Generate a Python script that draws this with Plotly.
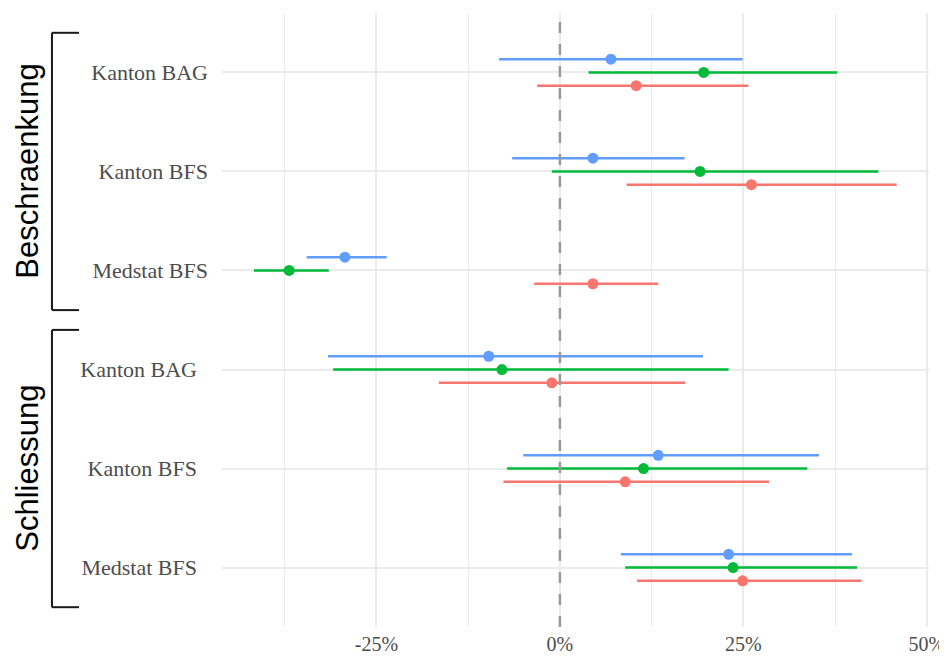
import plotly.graph_objects as go

# ---------------- data ----------------
groups = ["Beschraenkung", "Schliessung"]
categories = ["Kanton BAG", "Kanton BFS", "Medstat BFS"]

series_names = ["Serie 1", "Serie 2", "Serie 3"]
series_colors = ["#F8766D", "#00BA38", "#619CFF"]

# values in percent, order: Beschraenkung (BAG, BFS, Medstat), Schliessung (BAG, BFS, Medstat)
est_1 = [10.4, 26.1, 4.5, -1.1, 8.9, 24.9]
low_1 = [-3.1, 9.1, -3.5, -16.5, -7.7, 10.5]
high_1 = [25.7, 45.9, 13.4, 17.1, 28.5, 41.1]

est_2 = [19.6, 19.1, -36.9, -7.9, 11.4, 23.6]
low_2 = [3.9, -1.1, -41.7, -30.9, -7.2, 8.9]
high_2 = [37.8, 43.4, -31.5, 23.0, 33.7, 40.5]

est_3 = [6.95, 4.5, -29.3, -9.7, 13.4, 23.0]
low_3 = [-8.3, -6.5, -34.5, -31.6, -5.0, 8.3]
high_3 = [24.9, 17.0, -23.6, 19.5, 35.3, 39.8]

x_tickvals = [-25, 0, 25, 50]
x_ticktext = ["-25%", "0%", "25%", "50%"]

# ---------------- figure ----------------
estimates = [est_1, est_2, est_3]
lows = [low_1, low_2, low_3]
highs = [high_1, high_2, high_3]

n_cat = len(categories)
positions = list(range(1, len(groups) * n_cat + 1))
dodge = [0.134, 0.0, -0.134]

fig = go.Figure()
for s in range(3):
    ys = [p + dodge[s] for p in positions]
    est = estimates[s]
    fig.add_trace(go.Scatter(
        x=est, y=ys, mode="markers", name=series_names[s],
        marker=dict(color=series_colors[s], size=11, line=dict(width=0)),
        error_x=dict(type="data", symmetric=False,
                     array=[h - e for h, e in zip(highs[s], est)],
                     arrayminus=[e - l for e, l in zip(est, lows[s])],
                     color=series_colors[s], thickness=2.5, width=0),
        showlegend=False,
    ))

ticktext_y = []
for gi, g in enumerate(groups):
    for c in categories:
        ticktext_y.append(c + "\u00a0\u00a0" * gi)

label_font = dict(family="Liberation Serif", size=22, color="#4d4d4d")
xlabel_font = dict(family="Liberation Serif", size=20, color="#4d4d4d")
grid_col = "#ebebeb"

# the page body adds an 8px offset; the figure is sized to fit the window
fig.update_layout(
    width=939, height=649,
    margin=dict(l=214, r=18, t=5, b=30),
    paper_bgcolor="white", plot_bgcolor="white",
    xaxis=dict(
        range=[-46.05, 50.3], tickvals=x_tickvals, ticktext=x_ticktext,
        showgrid=True, gridcolor=grid_col, gridwidth=2, zeroline=False,
        showline=False, ticks="", tickfont=xlabel_font, ticklabelstandoff=3,
        minor=dict(dtick=12.5, tick0=0, showgrid=True, gridcolor=grid_col, gridwidth=1),
        automargin=False,
    ),
    yaxis=dict(
        range=[len(positions) + 0.6, 0.4], tickvals=positions, ticktext=ticktext_y,
        showgrid=True, gridcolor=grid_col, gridwidth=2, zeroline=False,
        showline=False, ticks="", tickfont=label_font, ticklabelstandoff=13,
        automargin=False,
    ),
)

# dashed zero line
fig.add_shape(type="line", xref="x", yref="paper", x0=0, x1=0, y0=0, y1=1,
              line=dict(color="#999999", width=2.5, dash="11px,11px"), layer="above")

# group brackets and labels
for gi, g in enumerate(groups):
    first = positions[gi * n_cat]
    last = positions[gi * n_cat + n_cat - 1]
    top = first - 0.4
    bot = last + 0.4
    xb, xt = -0.2405, -0.2023
    line = dict(color="#1a1a1a", width=2)
    fig.add_shape(type="line", xref="paper", yref="y", x0=xb, x1=xb, y0=top, y1=bot, line=line)
    fig.add_shape(type="line", xref="paper", yref="y", x0=xb, x1=xt, y0=top, y1=top, line=line)
    fig.add_shape(type="line", xref="paper", yref="y", x0=xb, x1=xt, y0=bot, y1=bot, line=line)
    fig.add_annotation(text=g, xref="paper", yref="y", x=-0.2755, y=(first + last) / 2,
                       textangle=-90, showarrow=False, xanchor="center", yanchor="middle",
                       font=dict(family="Liberation Sans", size=31, color="black"))

fig.write_html("out.html", config={"displayModeBar": False})
